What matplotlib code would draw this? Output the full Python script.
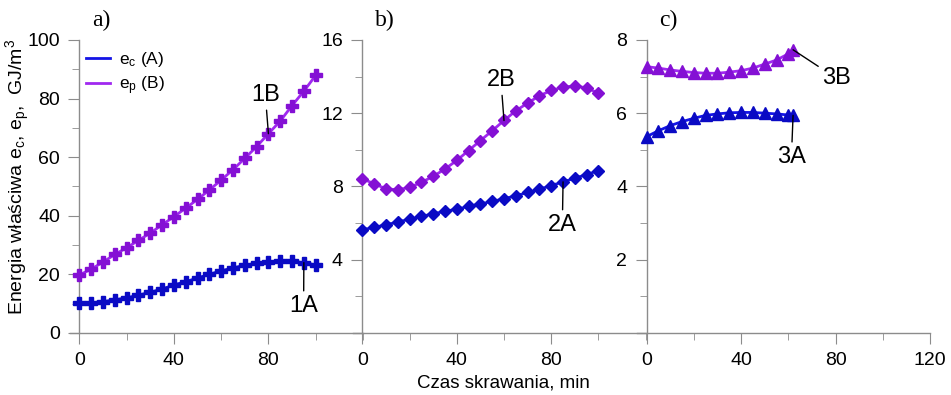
"""Specific energy vs. cutting time, three panels a) b) c)."""

import matplotlib

matplotlib.use("Agg")
import matplotlib.pyplot as plt
from matplotlib.ticker import MultipleLocator

plt.rcParams["font.family"] = ["Liberation Sans", "DejaVu Sans"]
plt.rcParams["mathtext.default"] = "regular"

# --- data ---
time_ab = [0, 5, 10, 15, 20, 25, 30, 35, 40, 45, 50,
           55, 60, 65, 70, 75, 80, 85, 90, 95, 100]
time_c = [0, 5, 10, 15, 20, 25, 30, 35, 40, 45, 50, 55, 60, 62]

e_1a = [10.1, 10.3, 10.7, 11.3, 12.0, 12.9, 13.9, 15.0, 16.4, 17.5, 18.8,
        20.0, 21.2, 22.2, 23.1, 23.8, 24.2, 24.5, 24.4, 24.0, 23.2]
e_1b = [19.8, 21.8, 24.2, 26.8, 29.1, 31.6, 34.1, 36.9, 39.7, 42.6, 45.6,
        48.8, 52.2, 55.7, 59.6, 63.6, 68.0, 72.3, 77.6, 82.5, 87.9]

e_2a = [5.64, 5.76, 5.91, 6.05, 6.22, 6.36, 6.51, 6.64, 6.76, 6.91, 7.05,
        7.18, 7.33, 7.49, 7.67, 7.85, 8.05, 8.25, 8.45, 8.65, 8.87]
e_2b = [8.42, 8.15, 7.87, 7.82, 7.95, 8.22, 8.55, 8.95, 9.42, 9.96, 10.5,
        11.04, 11.6, 12.13, 12.55, 12.95, 13.24, 13.42, 13.49, 13.38, 13.09]

e_3a = [5.36, 5.52, 5.66, 5.77, 5.86, 5.94, 5.98, 6.01, 6.02, 6.02, 6.00,
        5.98, 5.95, 5.94]
e_3b = [7.27, 7.23, 7.18, 7.14, 7.11, 7.09, 7.09, 7.12, 7.16, 7.23, 7.34,
        7.45, 7.62, 7.73]

y_ticks_a = [0, 20, 40, 60, 80, 100]
y_ticks_b = [4, 8, 12, 16]
y_ticks_c = [2, 4, 6, 8]

BLUE_LINE, BLUE_MARK = "#1414e6", "#0a0ac4"
PURPLE_LINE, PURPLE_MARK = "#a028f0", "#8410d4"
SPINE = "#8c8c8c"

fig = plt.figure(figsize=(9.51, 3.95), dpi=100)

bottom, height = 0.157, 0.742
width = 0.308
lefts = [0.0736, 0.371, 0.670]

panels = [
    ("a)", time_ab, e_1a, e_1b, "P", 8, (0, 100), y_ticks_a, 10),
    ("b)", time_ab, e_2a, e_2b, "D", 6.5, (0, 16), y_ticks_b, 2),
    ("c)", time_c, e_3a, e_3b, "^", 8, (0, 8), y_ticks_c, 1),
]

axes = []
for left, (tag, t, ea, eb, mk, ms, ylim, yticks, ymin) in zip(lefts, panels):
    ax = fig.add_axes([left, bottom, width, height])
    ax.plot(t, eb, color=PURPLE_LINE, lw=2, marker=mk, ms=ms,
            mfc=PURPLE_MARK, mec=PURPLE_MARK, label="e$_p$ (B)", zorder=3)
    ax.plot(t, ea, color=BLUE_LINE, lw=2, marker=mk, ms=ms,
            mfc=BLUE_MARK, mec=BLUE_MARK, label="e$_c$ (A)", zorder=3)
    ax.set_xlim(-4, 120)
    ax.set_ylim(*ylim)
    ax.spines["left"].set_position(("data", 0))
    for side in ("top", "right"):
        ax.spines[side].set_visible(False)
    for side in ("left", "bottom"):
        ax.spines[side].set_color(SPINE)
        ax.spines[side].set_linewidth(1.0)
    ax.set_xticks([0, 40, 80, 120] if tag == "c)" else [0, 40, 80])
    ax.xaxis.set_minor_locator(MultipleLocator(20))
    ax.set_yticks(yticks)
    ax.yaxis.set_minor_locator(MultipleLocator(ymin))
    ax.tick_params(which="both", direction="out", color=SPINE, labelsize=14)
    ax.tick_params(which="major", length=8, pad=6)
    ax.tick_params(which="minor", length=5)
    ax.set_facecolor("none")
    ax.text(5.5, ylim[1] * 1.065, tag, family=["Liberation Serif"], fontsize=17,
            ha="left", va="center")
    axes.append(ax)

ax_a, ax_b, ax_c = axes

handles, labels = ax_a.get_legend_handles_labels()
ax_a.legend(handles[::-1], labels[::-1], loc="upper left",
            bbox_to_anchor=(0.03, 0.99), frameon=False, fontsize=12.5,
            handlelength=1.4, handletextpad=0.5, labelspacing=0.3,
            borderaxespad=0)
for line in ax_a.get_legend().get_lines():
    line.set_marker("")

arrow = dict(arrowstyle="-", color="black", lw=1.0, shrinkA=1, shrinkB=0)
note = dict(fontsize=17, ha="center", va="center", arrowprops=arrow)
ax_a.annotate("1B", xy=(time_ab[16], e_1b[16]), xytext=(78.7, 81.2), **note)
ax_a.annotate("1A", xy=(time_ab[19], e_1a[19]), xytext=(94.9, 9.2), **note)
ax_b.annotate("2B", xy=(time_ab[12], e_2b[12]), xytext=(58.7, 13.8), **note)
ax_b.annotate("2A", xy=(time_ab[17], e_2a[17]), xytext=(84.7, 5.9), **note)
ax_c.annotate("3B", xy=(time_c[-1], e_3b[-1]), xytext=(80.4, 6.95), **note)
ax_c.annotate("3A", xy=(time_c[-1], e_3a[-1]), xytext=(61.3, 4.8), **note)

fig.text(0.019, 0.552, "Energia właściwa e$_c$, e$_p$,  GJ/m$^3$", rotation=90,
         ha="center", va="center", fontsize=14)
fig.text(0.529, 0.03, "Czas skrawania, min", ha="center", va="center",
         fontsize=13.5)

fig.savefig("out.png", dpi=100)
